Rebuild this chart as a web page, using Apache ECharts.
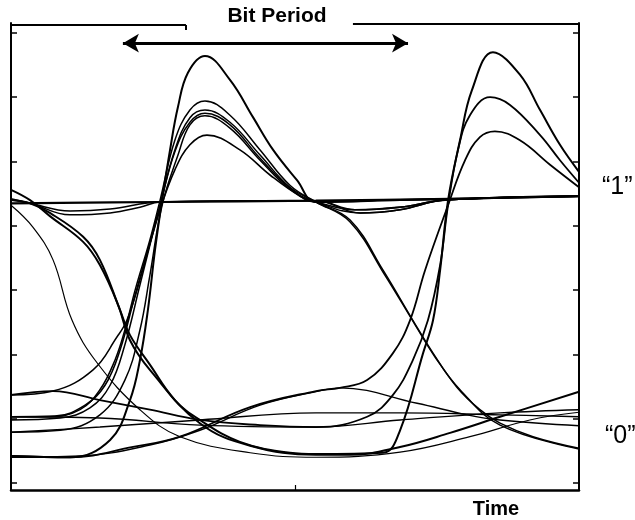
<!DOCTYPE html>
<html><head><meta charset="utf-8">
<script src="https://cdn.jsdelivr.net/npm/echarts@6/dist/echarts.min.js"></script>
<style>html,body{margin:0;padding:0;background:#fff}#c{width:635px;height:520px}</style>
</head><body><div id="c"></div>
<script>
// Eye diagram: time in unit intervals (UI), amplitude in axis tick units
const yTicks = [0, 1, 2, 3, 4, 5, 6, 7];
const xTicks = [1];
const titleText = 'Bit Period';
const xName = 'Time';
const level1Label = '“1”';
const level0Label = '“0”';
const bitPeriodSpan = [0.394, 1.398];
const bitPeriodLevel = 6.84;

const trace01 = [[0,4.35],[0.525,4.37],[1.074,4.39],[1.546,4.42],[2,4.46]];
const trace02 = [[0,4.40],[0.067,4.35],[0.208,4.17],[0.349,4.20],[0.454,4.29],[0.525,4.37],[0.842,4.39],[1.074,4.39],[1.229,4.20],[1.370,4.25],[1.528,4.40],[2,4.46]];
const trace03 = [[0,4.42],[0.067,4.35],[0.208,4.23],[0.349,4.26],[0.525,4.37],[1.074,4.39],[1.211,4.25],[1.370,4.29],[1.528,4.40],[2,4.46]];
const trace04 = [[0,0.42],[0.208,0.40],[0.349,0.67],[0.419,1.29],[0.454,1.91],[0.482,2.69],[0.507,3.62],[0.532,4.40],[0.560,5.18],[0.588,5.85],[0.623,6.38],[0.683,6.64],[0.771,6.27],[0.852,5.69],[0.923,5.18],[1.007,4.71],[1.074,4.37],[1.370,4.40],[2,4.46]];
const trace05 = [[0,1.03],[0.137,1.03],[0.243,1.14],[0.313,1.45],[0.366,1.91],[0.401,2.38],[0.437,3.00],[0.489,3.78],[0.525,4.40],[0.577,5.33],[0.630,5.80],[0.683,5.94],[0.771,5.72],[0.877,5.18],[0.982,4.63],[1.074,4.37],[1.194,4.09],[1.310,3.31],[1.415,2.53],[1.486,2.02],[1.570,1.49],[1.651,1.14],[1.722,0.93],[1.838,0.72],[2,0.54]];
const trace06 = [[0,0.98],[0.173,1.01],[0.278,1.17],[0.349,1.52],[0.401,2.15],[0.454,3.08],[0.525,4.32],[0.577,5.18],[0.630,5.68],[0.683,5.80],[0.771,5.61],[0.877,5.10],[0.982,4.60],[1.074,4.37],[1.194,4.06],[1.317,3.23],[1.423,2.46],[1.493,1.96],[1.581,1.45],[1.722,0.90],[2,0.53]];
const trace07 = [[0,1.37],[0.148,1.43],[0.289,1.76],[0.373,2.27],[0.408,2.53],[0.454,3.16],[0.525,4.32],[0.577,5.15],[0.630,5.61],[0.683,5.75],[0.771,5.57],[0.877,5.05],[0.982,4.59],[1.074,4.37],[1.370,4.40],[2,4.46]];
const trace08 = [[0,0.79],[0.173,0.82],[0.313,1.06],[0.401,1.60],[0.454,2.38],[0.489,3.23],[0.532,4.32],[0.588,5.10],[0.630,5.57],[0.683,5.71],[0.771,5.52],[0.877,5.02],[0.982,4.57],[1.074,4.37],[1.229,4.20],[1.370,4.25],[1.528,4.40],[2,4.46]];
const trace09 = [[0,1.03],[0.155,1.04],[0.261,1.21],[0.331,1.52],[0.384,2.07],[0.437,2.92],[0.525,4.25],[0.577,4.87],[0.630,5.26],[0.690,5.41],[0.806,5.18],[0.912,4.79],[1.018,4.46],[1.074,4.37],[1.211,4.25],[1.370,4.29],[1.528,4.40],[2,4.46]];
const trace10 = [[0,4.40],[0.067,4.35],[0.137,4.20],[0.254,3.83],[0.313,3.47],[0.384,2.69],[0.419,2.30],[0.489,1.84],[0.577,1.29],[0.665,0.98],[0.806,0.64],[0.982,0.47],[1.074,0.45],[1.310,0.47],[1.370,0.82],[1.451,2.02],[1.486,2.53],[1.511,3.31],[1.539,4.40],[1.581,5.33],[1.623,6.11],[1.697,6.70],[1.792,6.35],[1.863,5.80],[1.933,5.26],[2,4.84]];
const trace11 = [[0,4.56],[0.067,4.40],[0.137,4.15],[0.254,3.75],[0.313,3.39],[0.377,2.77],[0.419,2.22],[0.489,1.76],[0.665,0.93],[0.842,0.58],[1.074,0.44],[1.194,0.44],[1.370,0.56],[1.546,0.78],[1.722,1.03],[2,1.42]];
const trace12 = [[0,4.32],[0.077,3.98],[0.148,3.47],[0.215,2.53],[0.303,1.87],[0.454,1.14],[0.595,0.72],[0.842,0.47],[1.074,0.40],[1.370,0.48],[1.616,0.72],[1.827,0.98],[2,1.10]];
const trace13 = [[0,1.37],[0.148,1.43],[0.313,1.29],[0.489,1.14],[0.665,0.98],[0.877,0.90],[1.074,0.87],[1.254,1.03],[1.345,1.37],[1.415,1.91],[1.468,2.53],[1.511,3.39],[1.539,4.32],[1.574,5.18],[1.616,5.72],[1.687,6.00],[1.757,5.88],[1.863,5.41],[1.933,5.02],[2,4.67]];
const trace14 = [[0,0.42],[0.208,0.40],[0.430,0.56],[0.595,0.72],[0.842,1.18],[1.074,1.43],[1.158,1.48],[1.254,1.60],[1.345,2.02],[1.405,2.53],[1.458,3.31],[1.539,4.32],[1.599,5.02],[1.651,5.38],[1.704,5.47],[1.792,5.33],[1.898,4.95],[2,4.60]];
const trace15 = [[0,0.40],[0.243,0.42],[0.489,0.59],[0.665,0.82],[0.877,1.21],[1.074,1.42],[1.158,1.48],[1.430,1.24],[1.606,1.06],[1.722,0.98],[2,0.89]];
const trace16 = [[0,0.79],[0.313,0.87],[0.665,0.98],[1.074,1.09],[1.370,1.09],[1.722,1.06],[2,1.03]];
const trace17 = [[0,1.03],[0.313,1.01],[0.665,0.90],[1.074,0.87],[1.370,0.98],[1.722,1.09],[2,1.14]];

const traces = [trace01, trace02, trace03, trace04, trace05, trace06, trace07, trace08, trace09,
                trace10, trace11, trace12, trace13, trace14, trace15, trace16, trace17];
const traceWidths = [2.2, 1.5, 1.5, 2, 1.5, 1.5, 1.5, 1.5, 1.6, 2, 2, 1.2, 1.8, 1.8, 1.4, 1.4, 1.4];

// top frame pieces around the title, in data coordinates
const topLeftSeg = [[0, 7.123], [0.616, 7.123]];
const topLeftTick = [[0.616, 7.123], [0.616, 7.045]];
const topRightSeg = [[1.204, 7.146], [2, 7.146]];

const chart = echarts.init(document.getElementById('c'), null, {renderer: 'canvas'});
const FONT = '"Liberation Sans", Arial, sans-serif';

const series = traces.map((d, i) => ({
  type: 'line', data: d, smooth: 0.4, showSymbol: false, silent: true,
  lineStyle: {color: '#000', width: traceWidths[i]}, z: 2
}));
series.push({
  type: 'line', data: [], silent: true,
  markLine: {
    silent: true, animation: false, label: {show: false},
    lineStyle: {color: '#000', width: 2, type: 'solid'},
    symbol: 'none',
    data: [
      [{coord: topLeftSeg[0]}, {coord: topLeftSeg[1]}],
      [{coord: topLeftTick[0]}, {coord: topLeftTick[1]}],
      [{coord: topRightSeg[0]}, {coord: topRightSeg[1]}],
      [{coord: [bitPeriodSpan[0], bitPeriodLevel], symbol: 'arrow', symbolSize: [14, 16]},
       {coord: [bitPeriodSpan[1], bitPeriodLevel], symbol: 'arrow', symbolSize: [14, 16],
        lineStyle: {width: 3}}]
    ]
  }
});

const yAxisBase = (pos) => ({
  type: 'value', position: pos, min: -0.109, max: 7.154,
  axisLine: {show: true, onZero: false, lineStyle: {color: '#000', width: 2}},
  axisTick: {show: true, inside: true, length: 6, customValues: yTicks, lineStyle: {color: '#000', width: 1.5}},
  axisLabel: {show: false},
  splitLine: {show: false}
});

chart.setOption({
  animation: false,
  backgroundColor: '#fff',
  grid: {left: 11, right: 56, top: 23, bottom: 30},
  xAxis: {
    type: 'value', min: 0, max: 2,
    axisLine: {show: true, onZero: false, lineStyle: {color: '#000', width: 2.5}},
    axisTick: {show: true, inside: true, length: 5, customValues: xTicks, lineStyle: {color: '#000', width: 1.2}},
    axisLabel: {show: false},
    splitLine: {show: false}
  },
  yAxis: [yAxisBase('left'), yAxisBase('right')],
  series: series,
  graphic: [
    {type: 'text', x: 277, y: 16, style: {text: titleText, font: 'bold 21px ' + FONT, fill: '#000', align: 'center', verticalAlign: 'middle'}},
    {type: 'text', x: 496, y: 509, style: {text: xName, font: 'bold 20px ' + FONT, fill: '#000', align: 'center', verticalAlign: 'middle'}},
    {type: 'text', x: 602, y: 187, style: {text: level1Label, font: '25px ' + FONT, fill: '#000', align: 'left', verticalAlign: 'middle'}},
    {type: 'text', x: 605, y: 436, style: {text: level0Label, font: '25px ' + FONT, fill: '#000', align: 'left', verticalAlign: 'middle'}}
  ]
});
</script></body></html>
